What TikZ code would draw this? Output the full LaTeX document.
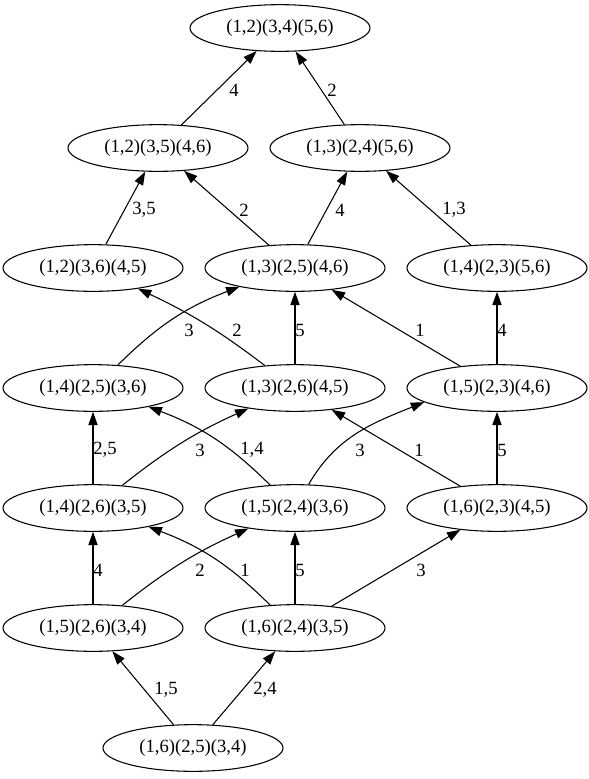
\documentclass[tikz,border=0pt]{standalone}
\usepackage{fontspec}
\setmainfont{Liberation Serif}
\usetikzlibrary{shapes.geometric,arrows.meta}
\tikzset{
  pairing/.style={
    shape = ellipse,
    draw,
    line width = 0.8pt,
    inner sep = 0pt,
    minimum width = 135pt,
    minimum height = 35pt,
    font = \fontsize{14pt}{16pt}\selectfont
  },
  move/.style={
    line width = 0.8pt,
    -{Triangle[length=10pt,width=7pt]}
  },
  lbl/.style={
    inner sep = 0pt,
    font = \fontsize{14pt}{16pt}\selectfont
  }
}
\begin{document}
\begin{tikzpicture}[x=0.75pt,y=-0.75pt]
        \useasboundingbox (0,0) rectangle (589,779);
        % pairings, one row per rank
        \node[pairing] (r0)  at (280,28)  {(1,2)(3,4)(5,6)};
        \node[pairing] (r1a) at (158,148) {(1,2)(3,5)(4,6)};
        \node[pairing] (r1b) at (360,148) {(1,3)(2,4)(5,6)};
        \node[pairing] (r2a) at (93,268)  {(1,2)(3,6)(4,5)};
        \node[pairing] (r2b) at (295,268) {(1,3)(2,5)(4,6)};
        \node[pairing] (r2c) at (497,268) {(1,4)(2,3)(5,6)};
        \node[pairing] (r3a) at (93,388)  {(1,4)(2,5)(3,6)};
        \node[pairing] (r3b) at (295,388) {(1,3)(2,6)(4,5)};
        \node[pairing] (r3c) at (497,388) {(1,5)(2,3)(4,6)};
        \node[pairing] (r4a) at (93,508)  {(1,4)(2,6)(3,5)};
        \node[pairing] (r4b) at (295,508) {(1,5)(2,4)(3,6)};
        \node[pairing] (r4c) at (497,508) {(1,6)(2,3)(4,5)};
        \node[pairing] (r5a) at (93,628)  {(1,5)(2,6)(3,4)};
        \node[pairing] (r5b) at (295,628) {(1,6)(2,4)(3,5)};
        \node[pairing] (r6)  at (193,748) {(1,6)(2,5)(3,4)};
        % moves
        \draw[move] (r1a) -- (r0);
        \draw[move] (r1b) -- (r0);
        \draw[move] (r2a) -- (r1a);
        \draw[move] (r2b) -- (r1a);
        \draw[move] (r2b) -- (r1b);
        \draw[move] (r2c) -- (r1b);
        \draw[move] (r3a) to[bend left=12] (r2b);
        \draw[move] (r3b) to[bend right=6] (r2a);
        \draw[move] (r3b) -- (r2b);
        \draw[move] (r3c) -- (r2b);
        \draw[move] (r3c) -- (r2c);
        \draw[move] (r4a) -- (r3a);
        \draw[move] (r4a) to[bend left=7] (r3b);
        \draw[move] (r4b) to[bend right=12] (r3a);
        \draw[move] (r4b) to[out=60,in=202] (r3c.191);
        \draw[move] (r4c) -- (r3b);
        \draw[move] (r4c) -- (r3c);
        \draw[move] (r5a) -- (r4a);
        \draw[move] (r5a) to[bend left=7] (r4b);
        \draw[move] (r5b) to[bend right=12] (r4a);
        \draw[move] (r5b) -- (r4b);
        \draw[move] (r5b) -- (r4c);
        \draw[move] (r6) -- (r5a);
        \draw[move] (r6) -- (r5b);
        % labels
        \node[lbl] (l1)  at (234,90)  {4};
        \node[lbl] (l2)  at (332,90)  {2};
        \node[lbl] (l3)  at (144,210) {3,5};
        \node[lbl] (l4)  at (244,210) {2};
        \node[lbl] (l5)  at (340,210) {4};
        \node[lbl] (l6)  at (454,210) {1,3};
        \node[lbl] (l7)  at (189,330) {3};
        \node[lbl] (l8)  at (237,330) {2};
        \node[lbl] (l9)  at (300,330) {5};
        \node[lbl] (l10) at (420,330) {1};
        \node[lbl] (l11) at (502,330) {4};
        \node[lbl] (l12) at (105,450) {2,5};
        \node[lbl] (l13) at (200,450) {3};
        \node[lbl] (l14) at (252,450) {1,4};
        \node[lbl] (l15) at (360,450) {3};
        \node[lbl] (l16) at (419,450) {1};
        \node[lbl] (l17) at (502,450) {5};
        \node[lbl] (l18) at (98,570)  {4};
        \node[lbl] (l19) at (200,570) {2};
        \node[lbl] (l20) at (245,570) {1};
        \node[lbl] (l21) at (300,570) {5};
        \node[lbl] (l22) at (421,570) {3};
        \node[lbl] (l23) at (166,690) {1,5};
        \node[lbl] (l24) at (265,690) {2,4};
    \end{tikzpicture}
\end{document}
